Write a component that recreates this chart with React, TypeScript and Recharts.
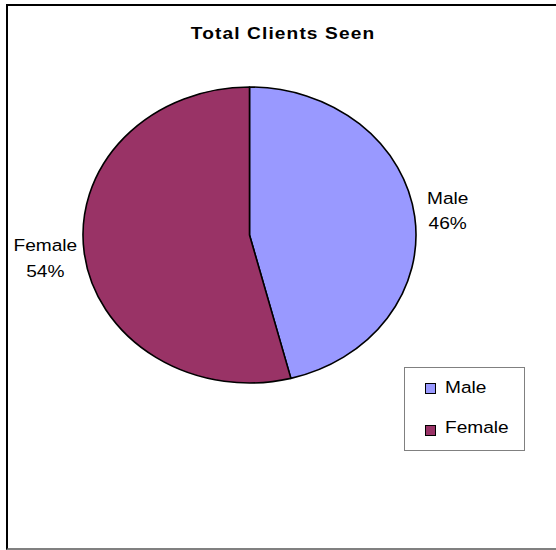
import React from 'react';
import { PieChart, Pie, Cell, Legend } from 'recharts';

const categories = ['Male', 'Female'];
const shares = [46, 54];
const colors = ['#9999FF', '#993366'];
const title = 'Total Clients Seen';

const data = categories.map((name, i) => ({ name, value: shares[i] }));

const RAD = Math.PI / 180;
const RY_RATIO = 148 / 166.5;
const XSCALE = 1.125;
const FONT = "Arial, 'Liberation Sans', sans-serif";
const MARGIN = { top: 0, right: 0, bottom: 0, left: 0 };

const ellPoint = (cx: number, cy: number, r: number, a: number) => [
  cx + r * Math.cos(a * RAD),
  cy - r * RY_RATIO * Math.sin(a * RAD),
];

const EllipseSector = (props: any) => {
  const { cx, cy, outerRadius, startAngle, endAngle, fill } = props;
  const [x1, y1] = ellPoint(cx, cy, outerRadius, startAngle);
  const [x2, y2] = ellPoint(cx, cy, outerRadius, endAngle);
  const large = Math.abs(endAngle - startAngle) > 180 ? 1 : 0;
  const sweep = endAngle < startAngle ? 1 : 0;
  const d = `M${cx},${cy} L${x1},${y1} A${outerRadius},${outerRadius * RY_RATIO} 0 ${large} ${sweep} ${x2},${y2} Z`;
  return <path d={d} fill={fill} stroke="#000" strokeWidth={1.6} strokeLinejoin="round" />;
};

const StretchText = ({ x, y, children, size = 17, weight = 'normal', anchor = 'middle', spacing = 0 }: any) => (
  <text
    transform={`translate(${x},${y}) scale(${XSCALE},1)`}
    x={0}
    y={0}
    textAnchor={anchor}
    fontFamily={FONT}
    fontSize={size}
    fontWeight={weight}
    letterSpacing={spacing}
    fill="#000"
  >
    {children}
  </text>
);

const renderLabel = (p: any) => {
  const { cx, cy, outerRadius, midAngle, name, percent } = p;
  const [px, py] = ellPoint(cx, cy, outerRadius, midAngle);
  const right = Math.cos(midAngle * RAD) > 0;
  const lx = px + (right ? 33 : -39);
  const ly = py + (right ? -12.5 : -2.5);
  return (
    <g>
      <StretchText x={lx} y={ly}>{name}</StretchText>
      <StretchText x={lx} y={ly + 25.5}>{`${Math.round(percent * 100)}%`}</StretchText>
    </g>
  );
};

const LegendBox = (props: any) => {
  const payload = [...(props.payload || [])].sort(
    (a: any, b: any) => categories.indexOf(a.value) - categories.indexOf(b.value)
  );
  return (
    <div style={{ width: 121, height: 84, border: '1px solid #808080', boxSizing: 'border-box', background: '#fff' }}>
      <svg width={119} height={82} style={{ display: 'block' }}>
        {payload.map((e: any, i: number) => (
          <g key={i}>
            <rect x={20.5} y={15.5 + i * 42} width={10} height={10} fill={colors[categories.indexOf(e.value)] || e.color} stroke="#000" strokeWidth={1} />
            <StretchText x={40} y={25 + i * 40} anchor="start">{e.value}</StretchText>
          </g>
        ))}
      </svg>
    </div>
  );
};

export default function App() {
  return (
    <div style={{ position: 'absolute', left: 0, top: 0, width: 556, height: 550, background: '#fff', overflow: 'hidden' }}>
      <div
        style={{
          position: 'absolute',
          left: 6,
          top: 4,
          width: 560,
          height: 546,
          borderTop: '2px solid #000',
          borderLeft: '2px solid #000',
          borderBottom: '2px solid #808080',
          boxSizing: 'border-box',
        }}
      />
      <div style={{ position: 'absolute', left: 0, top: 0 }}>
        <PieChart width={556} height={550} margin={MARGIN}>
          <text
            transform={`translate(283,39) scale(${XSCALE},1)`}
            x={0}
            y={0}
            textAnchor="middle"
            fontFamily={FONT}
            fontSize={17}
            fontWeight="bold"
            letterSpacing={1}
            fill="#000"
          >
            {title}
          </text>
          <Pie
            data={data}
            dataKey="value"
            nameKey="name"
            cx={249.5}
            cy={235}
            outerRadius={166.5}
            startAngle={90}
            endAngle={-270}
            isAnimationActive={false}
            label={renderLabel}
            labelLine={false}
            shape={EllipseSector}
            activeShape={EllipseSector}
            inactiveShape={EllipseSector}
            stroke="#000"
          >
            {data.map((d, i) => (
              <Cell key={d.name} fill={colors[i]} />
            ))}
          </Pie>
          <Legend
            content={LegendBox}
            wrapperStyle={{ position: 'absolute', left: 404, top: 367, width: 121, height: 84, bottom: 'auto', right: 'auto' }}
          />
        </PieChart>
      </div>
    </div>
  );
}
